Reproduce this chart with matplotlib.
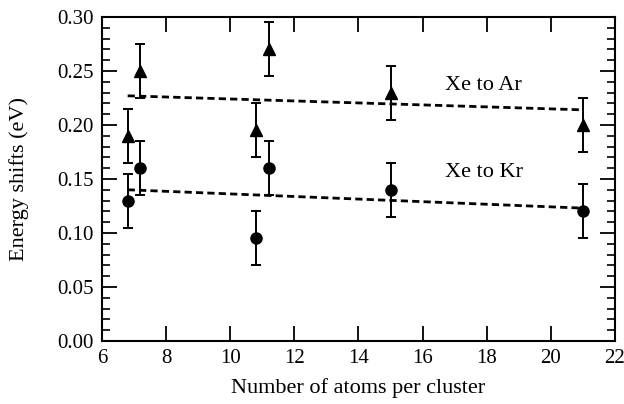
import numpy as np
import matplotlib
matplotlib.use("Agg")
from matplotlib import pyplot as plt
from matplotlib.ticker import MultipleLocator

# cluster sizes and shifts
x_ar = [6.8, 7.2, 10.8, 11.2, 15, 21]
y_ar = [0.19, 0.25, 0.195, 0.27, 0.23, 0.20]
x_kr = [6.8, 7.2, 10.8, 11.2, 15, 21]
y_kr = [0.13, 0.16, 0.095, 0.16, 0.14, 0.12]
err = 0.025

# dashed fit lines (end points)
fit_x = [6.8, 21]
fit_ar = [0.227, 0.214]
fit_kr = [0.140, 0.123]

plt.rcParams["font.family"] = "Liberation Serif"
plt.rcParams["mathtext.fontset"] = "stix"

fig = plt.figure(figsize=(6.24, 4.04), dpi=100)
ax = fig.add_axes([0.1635, 0.156, 0.822, 0.802])

ax.plot(fit_x, fit_ar, color='k', linestyle=(0, (2.6, 1.5)), linewidth=2.0)
ax.plot(fit_x, fit_kr, color='k', linestyle=(0, (2.6, 1.5)), linewidth=2.0)

ax.errorbar(x_ar, y_ar, yerr=err, fmt='^', color='k', markersize=8,
            capsize=3.5, elinewidth=1.4, capthick=1.4)
ax.errorbar(x_kr, y_kr, yerr=err, fmt='o', color='k', markersize=8,
            capsize=3.5, elinewidth=1.4, capthick=1.4)

ax.text(16.7, 0.237, "Xe to Ar", fontsize=16, ha='left', va='center')
ax.text(16.7, 0.156, "Xe to Kr", fontsize=16, ha='left', va='center')

ax.set_xlim(6, 22)
ax.set_ylim(0, 0.30)
ax.xaxis.set_major_locator(MultipleLocator(2))
ax.yaxis.set_major_locator(MultipleLocator(0.05))
ax.yaxis.set_minor_locator(MultipleLocator(0.01))
ax.yaxis.set_major_formatter(matplotlib.ticker.FormatStrFormatter('%.2f'))

ax.tick_params(which='both', direction='in', top=True, right=True, labelsize=15)
ax.tick_params(which='major', length=10.5, width=1.3, pad=6)
ax.tick_params(which='minor', length=5.5, width=1.2)
for s in ax.spines.values():
    s.set_linewidth(1.5)

ax.set_xlabel("Number of atoms per cluster", fontsize=16, labelpad=7)
ax.set_ylabel("Energy shifts (eV)", fontsize=16, labelpad=20)

fig.savefig("out.png", dpi=100)
